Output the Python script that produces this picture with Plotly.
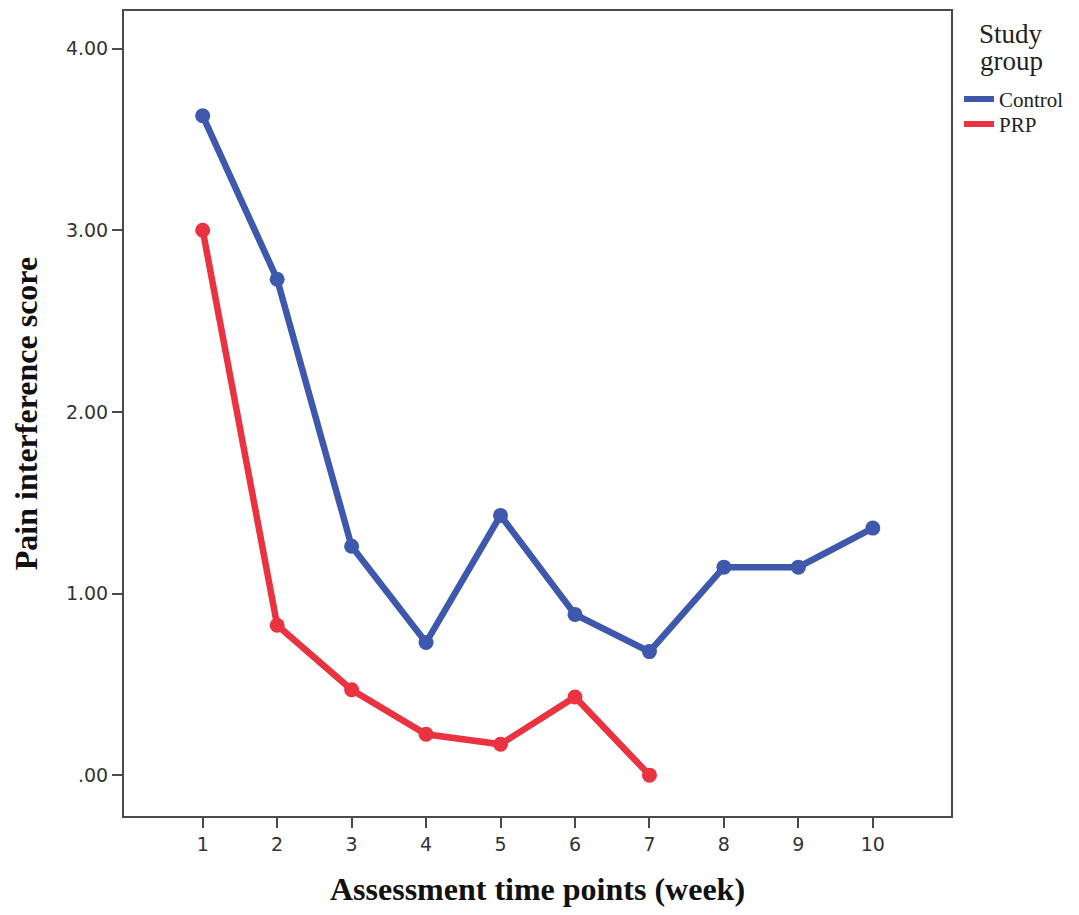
import plotly.graph_objects as go

weeks_control = [1, 2, 3, 4, 5, 6, 7, 8, 9, 10]
control = [3.63, 2.73, 1.26, 0.73, 1.43, 0.885, 0.68, 1.145, 1.145, 1.36]
weeks_prp = [1, 2, 3, 4, 5, 6, 7]
prp = [3.00, 0.825, 0.47, 0.225, 0.17, 0.43, 0.0]
x_ticks = [1, 2, 3, 4, 5, 6, 7, 8, 9, 10]
y_ticks = [0, 1, 2, 3, 4]
y_tick_labels = [".00", "1.00", "2.00", "3.00", "4.00"]
groups = ["Control", "PRP"]

BLUE = "#3D58AD"
RED = "#EA3240"
AXC = "#4a4a4a"
SERIF = "Liberation Serif"

fig = go.Figure()
fig.add_trace(go.Scatter(x=weeks_control, y=control, mode="lines+markers", name=groups[0],
                         showlegend=False,
                         line=dict(color=BLUE, width=6.5), marker=dict(color=BLUE, size=15)))
fig.add_trace(go.Scatter(x=weeks_prp, y=prp, mode="lines+markers", name=groups[1],
                         showlegend=False,
                         line=dict(color=RED, width=6.5), marker=dict(color=RED, size=15)))
# legend-only entries (line symbol only, like the original)
for name, col, lg in zip(groups, [BLUE, RED], ["legend", "legend2"]):
    fig.add_trace(go.Scatter(x=[None], y=[None], mode="lines", name=name, legend=lg,
                             line=dict(color=col, width=6)))

legend_font = dict(family=SERIF, size=21, color="#222")

# page is offset by the browser's 8px body margin
W, H = 1071, 907
fig.update_layout(
    width=W, height=H,
    margin=dict(l=116, r=128, t=1, b=99),
    plot_bgcolor="white", paper_bgcolor="white",
    showlegend=True,
    legend=dict(x=1.0097, xanchor="left", y=0.9157, yanchor="top",
                font=legend_font, bgcolor="rgba(0,0,0,0)"),
    legend2=dict(x=1.0097, xanchor="left", y=0.8848, yanchor="top",
                 font=legend_font, bgcolor="rgba(0,0,0,0)"),
    annotations=[
        dict(text="Study", x=1.0726, y=0.9715, xref="paper", yref="paper",
             xanchor="center", yanchor="middle", showarrow=False,
             font=dict(family=SERIF, size=27, color="#222")),
        dict(text="group", x=1.0726, y=0.9375, xref="paper", yref="paper",
             xanchor="center", yanchor="middle", showarrow=False,
             font=dict(family=SERIF, size=27, color="#222")),
    ],
    xaxis=dict(
        range=[-0.057, 11.05], tickvals=x_ticks, ticktext=[str(v) for v in x_ticks],
        showgrid=False, zeroline=False, showline=True, linecolor=AXC, linewidth=2,
        mirror=True, ticks="outside", ticklen=10, tickwidth=2, tickcolor=AXC,
        tickfont=dict(family="DejaVu Sans", size=19, color="#333"),
        title=dict(text="<b>Assessment time points (week)</b>",
                   font=dict(family=SERIF, size=32, color="#111"), standoff=24),
    ),
    yaxis=dict(
        range=[-0.225, 4.207], tickvals=y_ticks, ticktext=y_tick_labels,
        showgrid=False, zeroline=False, showline=True, linecolor=AXC, linewidth=2,
        mirror=True, ticks="outside", ticklen=10, tickwidth=2, tickcolor=AXC,
        tickfont=dict(family="DejaVu Sans", size=19, color="#333"),
        title=dict(text="<b>Pain interference score</b>",
                   font=dict(family=SERIF, size=32, color="#111"), standoff=19),
    ),
)

fig.write_html("out.html")
